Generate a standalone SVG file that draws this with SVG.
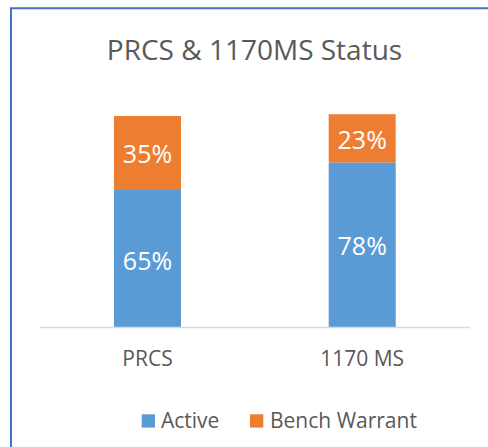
<svg xmlns="http://www.w3.org/2000/svg" width="488" height="447" viewBox="0 0 488 447">
  <style>
    .txt { font-family: "Open Sans", "Liberation Sans", sans-serif; fill: #595959; }
    .title { font-size: 28px; }
    .axis { font-size: 21px; }
    .legend { font-size: 21px; }
    .val { font-family: "Open Sans", "Liberation Sans", sans-serif; font-size: 25px; fill: #FFFFFF; text-anchor: middle; }
    .active { fill: #5B9BD5; }
    .bench { fill: #ED7D31; }
  </style>
  <rect x="0" y="0" width="488" height="447" fill="#FFFFFF"/>
  <!-- chart frame (right and bottom edges fall outside the view) -->
  <path d="M11,447 V8.3 H488" fill="none" stroke="#4472C4" stroke-width="2"/>

  <text class="txt title" x="254.5" y="60" text-anchor="middle">PRCS &amp; 1170MS Status</text>

  <g id="bar-prcs">
    <rect class="bench" x="114" y="116" width="67" height="74"/>
    <rect class="active" x="114" y="190" width="67" height="137"/>
    <text class="val" x="147.5" y="163">35%</text>
    <text class="val" x="147.5" y="270">65%</text>
  </g>

  <g id="bar-1170ms">
    <rect class="bench" x="328.7" y="114.2" width="67" height="48.5"/>
    <rect class="active" x="328.7" y="162.7" width="67" height="164.3"/>
    <text class="val" x="362.2" y="149">23%</text>
    <text class="val" x="362.2" y="255">78%</text>
  </g>

  <g id="axis">
    <line x1="40" y1="327.5" x2="470" y2="327.5" stroke="#D9D9D9" stroke-width="1.3"/>
    <text class="txt axis" x="147.5" y="366" text-anchor="middle">PRCS</text>
    <text class="txt axis" x="362.2" y="366" text-anchor="middle">1170 MS</text>
  </g>

  <g id="legend">
    <rect class="active" x="141.7" y="414.3" width="13.3" height="13.3"/>
    <text class="txt legend" x="161" y="428">Active</text>
    <rect class="bench" x="250" y="414.3" width="13.3" height="13.3"/>
    <text class="txt legend" x="270" y="428">Bench Warrant</text>
  </g>
</svg>
